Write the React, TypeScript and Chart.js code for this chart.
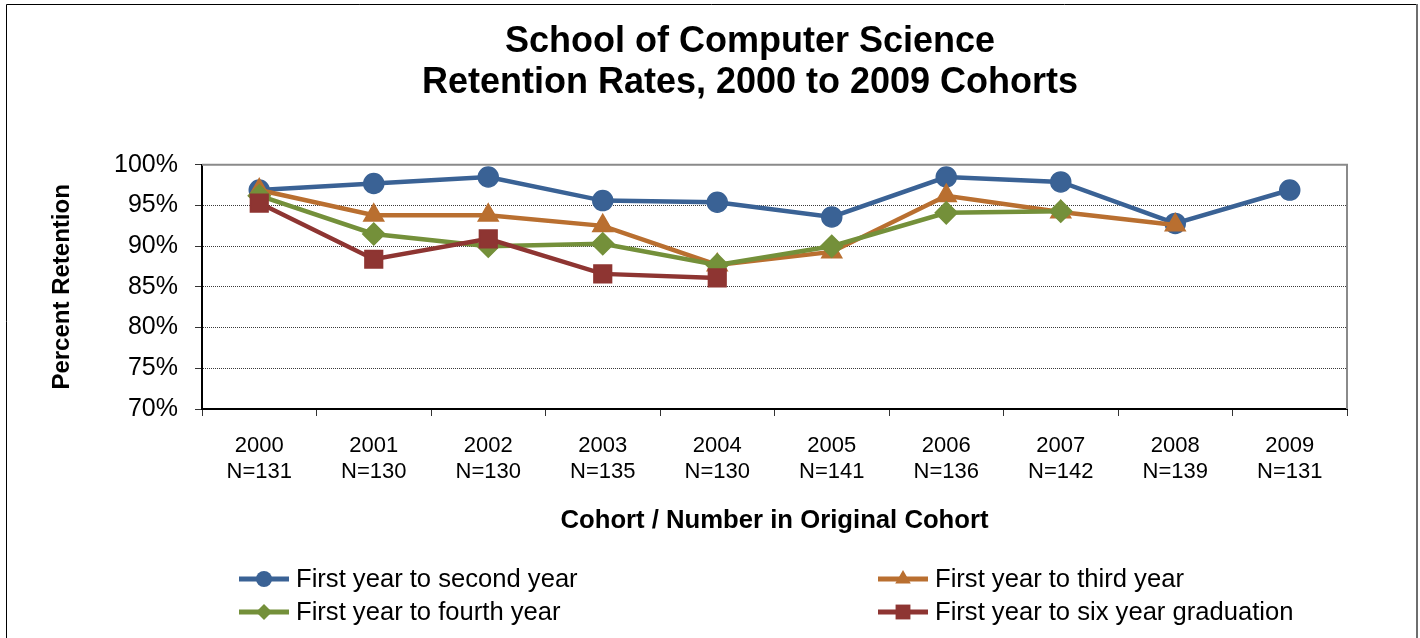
import React, { useEffect, useRef } from 'react';
import { Chart, registerables } from 'chart.js';

Chart.register(...registerables);

const cohortYears = ['2000', '2001', '2002', '2003', '2004', '2005', '2006', '2007', '2008', '2009'];
const cohortSizes = ['N=131', 'N=130', 'N=130', 'N=135', 'N=130', 'N=141', 'N=136', 'N=142', 'N=139', 'N=131'];

const firstToSecond = [96.9, 97.7, 98.5, 95.6, 95.4, 93.6, 98.5, 97.9, 92.8, 96.9];
const firstToThird = [96.9, 93.8, 93.8, 92.5, 87.7, 89.3, 96.2, 94.2, 92.6, null];
const firstToFourth = [96.2, 91.5, 90.0, 90.3, 87.7, 90.0, 94.1, 94.3, null, null];
const firstToGraduation = [95.3, 88.4, 90.9, 86.6, 86.1, null, null, null, null, null];

const seriesNames = [
  'First year to second year',
  'First year to third year',
  'First year to fourth year',
  'First year to six year graduation',
];

const titleLines = ['School of Computer Science', 'Retention Rates, 2000 to 2009 Cohorts'];
const yAxisTitle = 'Percent Retention';
const xAxisTitle = 'Cohort / Number in Original Cohort';
const yMin = 70;
const yMax = 100;
const yStep = 5;

const FONT = "'Liberation Sans', Arial, Helvetica, sans-serif";

function drawMarker(ctx: CanvasRenderingContext2D, style: string, x: number, y: number, r: number) {
  ctx.beginPath();
  if (style === 'circle') {
    ctx.arc(x, y, r, 0, Math.PI * 2);
  } else if (style === 'triangle') {
    const h = r * 1.5;
    const w = r * Math.sqrt(3);
    ctx.moveTo(x, y - r);
    ctx.lineTo(x + w / 2, y - r + h);
    ctx.lineTo(x - w / 2, y - r + h);
    ctx.closePath();
  } else if (style === 'rectRot') {
    ctx.moveTo(x, y - r);
    ctx.lineTo(x + r, y);
    ctx.lineTo(x, y + r);
    ctx.lineTo(x - r, y);
    ctx.closePath();
  } else {
    const s = r * Math.SQRT1_2;
    ctx.rect(x - s, y - s, 2 * s, 2 * s);
  }
  ctx.fill();
}

const framePlugin = {
  id: 'frame',
  beforeDatasetsDraw(chart: any) {
    const { ctx, chartArea } = chart;
    ctx.save();
    ctx.strokeStyle = '#8a8a8a';
    ctx.lineWidth = 2;
    ctx.beginPath();
    ctx.moveTo(chartArea.left, chartArea.top);
    ctx.lineTo(chartArea.right, chartArea.top);
    ctx.lineTo(chartArea.right, chartArea.bottom);
    ctx.stroke();
    ctx.restore();
  },
  afterDraw(chart: any) {
    const { ctx } = chart;
    ctx.save();
    // outer chart border
    ctx.strokeStyle = '#000';
    ctx.lineWidth = 1;
    ctx.beginPath();
    ctx.moveTo(6.5, 640);
    ctx.lineTo(6.5, 4.5);
    ctx.lineTo(1417, 4.5);
    ctx.stroke();
    ctx.strokeStyle = '#6e6e6e';
    ctx.lineWidth = 2;
    ctx.beginPath();
    ctx.moveTo(1417, 4);
    ctx.lineTo(1417, 640);
    ctx.stroke();

    // legend
    const slots = [
      [239, 579],
      [878, 579],
      [239, 612],
      [878, 612],
    ];
    chart.data.datasets.forEach((ds: any, i: number) => {
      const [x, y] = slots[i];
      ctx.strokeStyle = ds.borderColor;
      ctx.fillStyle = ds.borderColor;
      ctx.lineWidth = 5;
      ctx.beginPath();
      ctx.moveTo(x, y);
      ctx.lineTo(x + 50, y);
      ctx.stroke();
      drawMarker(ctx, ds.pointStyle, x + 25, y, ds.legendRadius);
      ctx.fillStyle = '#000';
      ctx.font = `25.6px ${FONT}`;
      ctx.textAlign = 'left';
      ctx.textBaseline = 'middle';
      ctx.fillText(ds.label, x + 57, y + 1);
    });
    ctx.restore();
  },
};

export default function App() {
  const canvasRef = useRef<HTMLCanvasElement | null>(null);

  useEffect(() => {
    const canvas = canvasRef.current;
    if (!canvas) return;
    const chart = new Chart(canvas, {
      type: 'line',
      data: {
        labels: cohortYears.map((y, i) => [y, cohortSizes[i]]),
        datasets: [
          {
            label: seriesNames[0],
            data: firstToSecond,
            borderColor: '#3A6295',
            backgroundColor: '#3A6295',
            pointStyle: 'circle',
            pointRadius: 10,
            legendRadius: 8,
            order: 4,
          },
          {
            label: seriesNames[1],
            data: firstToThird,
            borderColor: '#B96F30',
            backgroundColor: '#B96F30',
            pointStyle: 'triangle',
            pointRadius: 11.5,
            legendRadius: 9,
            order: 3,
          },
          {
            label: seriesNames[2],
            data: firstToFourth,
            borderColor: '#74903A',
            backgroundColor: '#74903A',
            pointStyle: 'rectRot',
            pointRadius: 11,
            legendRadius: 8,
            order: 2,
          },
          {
            label: seriesNames[3],
            data: firstToGraduation,
            borderColor: '#8E3532',
            backgroundColor: '#8E3532',
            pointStyle: 'rect',
            pointRadius: 12.5,
            legendRadius: 10.5,
            order: 1,
          },
        ].map((d: any) => ({
          ...d,
          borderWidth: 4.5,
          pointBackgroundColor: d.borderColor,
          pointBorderColor: d.borderColor,
          pointBorderWidth: 1.5,
          pointHoverRadius: d.pointRadius,
          tension: 0,
          fill: false,
          spanGaps: false,
        })),
      },
      options: {
        responsive: false,
        animation: false,
        layout: { padding: { left: 80, right: 0, top: 0, bottom: 103 } },
        plugins: {
          legend: { display: false },
          tooltip: { enabled: false },
          title: {
            display: true,
            text: titleLines,
            color: '#000',
            font: { family: FONT, size: 36, weight: 'bold', lineHeight: 1.15 },
            padding: { top: 21, bottom: 61 },
          },
        },
        scales: {
          x: {
            type: 'category',
            offset: true,
            grid: {
              display: true,
              drawOnChartArea: false,
              offset: true,
              drawTicks: true,
              tickLength: 7,
              tickColor: '#333',
              color: '#333',
              lineWidth: 1,
            },
            border: { display: true, color: '#000', width: 2 },
            ticks: {
              color: '#000',
              padding: 17,
              maxRotation: 0,
              autoSkip: false,
              font: { family: FONT, size: 22, lineHeight: 26 / 22 },
            },
            title: {
              display: true,
              text: xAxisTitle,
              color: '#000',
              font: { family: FONT, size: 25.7, weight: 'bold', lineHeight: 1.2 },
              padding: { top: 0, bottom: -1 },
            },
            afterFit: (s: any) => {
              s.height = 126;
            },
          },
          y: {
            type: 'linear',
            position: 'left',
            min: yMin,
            max: yMax,
            ticks: {
              stepSize: yStep,
              color: '#000',
              padding: 17,
              font: { family: FONT, size: 25 },
              callback: (v: any) => `${v}%`,
            },
            grid: {
              display: true,
              color: '#3a3a3a',
              lineWidth: 1,
              drawTicks: true,
              tickLength: 7,
              tickColor: '#333',
              tickBorderDash: [],
            },
            border: { display: true, color: '#000', width: 2, dash: [1, 1] },
            title: {
              display: true,
              text: yAxisTitle,
              color: '#000',
              font: { family: FONT, size: 24, weight: 'bold', lineHeight: 1.2 },
              padding: { top: -32, bottom: 0 },
            },
            afterFit: (s: any) => {
              s.width = 122;
            },
          },
          yRightSpacer: {
            type: 'linear',
            position: 'right',
            display: true,
            grid: { display: false, drawTicks: false },
            border: { display: false },
            ticks: { display: false },
            afterFit: (s: any) => {
              s.width = 73;
            },
          },
        },
      } as any,
      plugins: [framePlugin],
    });
    return () => chart.destroy();
  }, []);

  return (
    <div style={{ position: 'fixed', left: 0, top: 0, width: 1420, height: 638, background: '#fff' }}>
      <canvas ref={canvasRef} width={1420} height={638} style={{ display: 'block' }} />
    </div>
  );
}
